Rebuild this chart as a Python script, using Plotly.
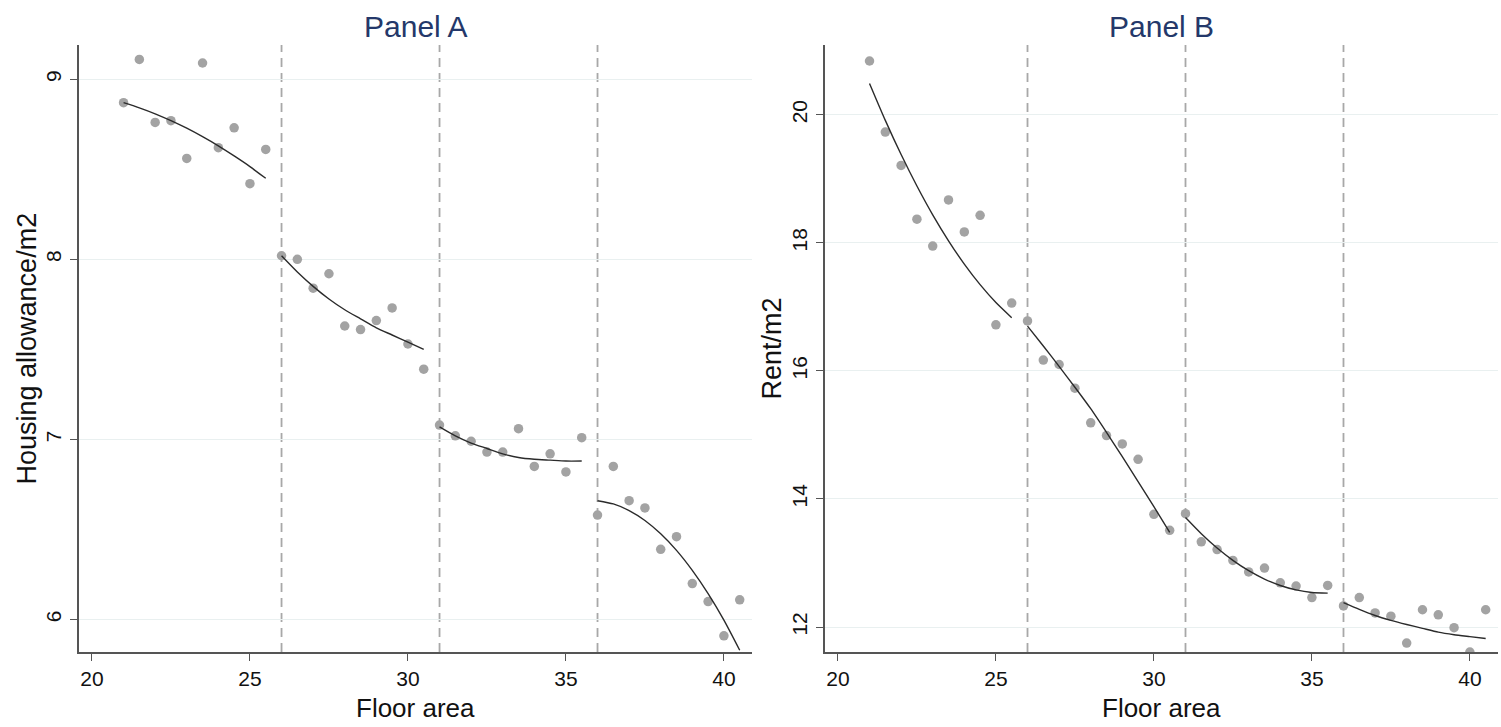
import plotly.graph_objects as go

# Floor-area bins (m2), shared by both panels
floor_area = [21, 21.5, 22, 22.5, 23, 23.5, 24, 24.5, 25, 25.5,
              26, 26.5, 27, 27.5, 28, 28.5, 29, 29.5, 30, 30.5,
              31, 31.5, 32, 32.5, 33, 33.5, 34, 34.5, 35, 35.5,
              36, 36.5, 37, 37.5, 38, 38.5, 39, 39.5, 40, 40.5]

# Panel A: mean housing allowance per m2 in each bin
allowance = [8.87, 9.11, 8.76, 8.77, 8.56, 9.09, 8.62, 8.73, 8.42, 8.61,
             8.02, 8.00, 7.84, 7.92, 7.63, 7.61, 7.66, 7.73, 7.53, 7.39,
             7.08, 7.02, 6.99, 6.93, 6.93, 7.06, 6.85, 6.92, 6.82, 7.01,
             6.58, 6.85, 6.66, 6.62, 6.39, 6.46, 6.20, 6.10, 5.91, 6.11]

# Panel B: mean rent per m2 in each bin
rent = [20.84, 19.73, 19.21, 18.37, 17.95, 18.67, 18.17, 18.43, 16.72, 17.06,
        16.78, 16.17, 16.10, 15.73, 15.19, 14.99, 14.86, 14.62, 13.76, 13.51,
        13.77, 13.33, 13.21, 13.04, 12.86, 12.92, 12.69, 12.64, 12.46, 12.65,
        12.33, 12.46, 12.22, 12.17, 11.75, 12.27, 12.19, 11.99, 11.61, 12.27]

# Thresholds separating the allowance brackets
cutoffs = [26, 31, 36]

# Fitted values within each bracket, one list per bracket (same bins as above)
fit_allowance = [[8.870, 8.841, 8.808, 8.770, 8.728, 8.681, 8.630, 8.574, 8.515, 8.450],
                 [8.020, 7.930, 7.850, 7.780, 7.720, 7.670, 7.620, 7.580, 7.540, 7.500],
                 [7.070, 7.020, 6.980, 6.950, 6.920, 6.900, 6.890, 6.885, 6.880, 6.880],
                 [6.660, 6.642, 6.605, 6.550, 6.476, 6.384, 6.273, 6.144, 5.997, 5.830]]
fit_rent = [[20.490, 19.913, 19.379, 18.888, 18.438, 18.032, 17.668, 17.347, 17.068, 16.831],
            [16.700, 16.390, 16.070, 15.745, 15.410, 15.040, 14.660, 14.270, 13.880, 13.480],
            [13.710, 13.457, 13.234, 13.042, 12.880, 12.749, 12.649, 12.580, 12.540, 12.530],
            [12.380, 12.275, 12.180, 12.105, 12.040, 11.980, 11.920, 11.880, 11.850, 11.820]]

panel_titles = ["Panel A", "Panel B"]
y_titles = ["Housing allowance/m2", "Rent/m2"]

DOT = "#a3a3a3"
FIT = "#2b2b2b"
AXIS = "#555555"
GRID = "#e9f0f0"
TITLE = "#24386a"
FONT = "Liberation Sans, Arial, sans-serif"

fig = go.Figure()

for p, (values, fits) in enumerate([(allowance, fit_allowance), (rent, fit_rent)]):
    xa = "x" if p == 0 else "x2"
    ya = "y" if p == 0 else "y2"
    fig.add_trace(go.Scatter(
        x=floor_area, y=values, mode="markers", xaxis=xa, yaxis=ya,
        marker=dict(color=DOT, size=9.5, line=dict(width=0)),
        showlegend=False, hoverinfo="x+y"))
    for k, fy in enumerate(fits):
        fx = floor_area[10 * k:10 * (k + 1)]
        fig.add_trace(go.Scatter(
            x=fx, y=fy, mode="lines", xaxis=xa, yaxis=ya,
            line=dict(color=FIT, width=1.4, shape="spline", smoothing=0.6),
            showlegend=False, hoverinfo="skip"))
    for c in cutoffs:
        fig.add_shape(type="line", xref=xa, yref=f"{ya} domain",
                      x0=c, x1=c, y0=0, y1=1,
                      line=dict(color="#a8a8a8", width=1.8, dash="9px,6px"),
                      layer="below")

common_x = dict(range=[19.59, 40.89], tickvals=[20, 25, 30, 35, 40],
                showline=True, linecolor=AXIS, linewidth=1.5,
                ticks="outside", ticklen=7, tickcolor=AXIS, tickwidth=1.3,
                showgrid=False, zeroline=False,
                tickfont=dict(family=FONT, size=21, color="#111"))
common_y = dict(showline=True, linecolor=AXIS, linewidth=1.5,
                ticks="outside", ticklen=7, tickcolor=AXIS, tickwidth=1.3,
                showgrid=True, gridcolor=GRID, gridwidth=1, zeroline=False,
                tickangle=-90, ticklabelstandoff=1,
                tickfont=dict(family=FONT, size=21, color="#111"))

fig.update_layout(
    width=1501, height=727,
    margin=dict(l=79, r=3, t=45, b=75),
    paper_bgcolor="white", plot_bgcolor="white",
    xaxis=dict(domain=[0, 0.4743], anchor="y", **common_x),
    xaxis2=dict(domain=[0.5257, 1], anchor="y2", **common_x),
    yaxis=dict(domain=[0, 1], anchor="x", range=[5.82, 9.19],
               tickvals=[6, 7, 8, 9], **common_y),
    yaxis2=dict(domain=[0, 1], anchor="x2", range=[11.61, 21.09],
                tickvals=[12, 14, 16, 18, 20], **common_y),
)

for i, t in enumerate(panel_titles):
    dom = fig.layout.xaxis.domain if i == 0 else fig.layout.xaxis2.domain
    mid = (dom[0] + dom[1]) / 2
    fig.add_annotation(text=t, xref="paper", yref="paper",
                       x=mid, y=1.0, yshift=19,
                       xanchor="center", yanchor="middle", showarrow=False,
                       font=dict(family=FONT, size=30, color=TITLE))
    # horizontal axis title below the tick labels
    fig.add_annotation(text="Floor area", xref="paper", yref="paper",
                       x=mid, y=0.0, yshift=-56,
                       xanchor="center", yanchor="middle", showarrow=False,
                       font=dict(family=FONT, size=26, color="#111"))
    # vertical axis title, set just left of the tick labels
    fig.add_annotation(text=y_titles[i], xref="paper", yref="paper",
                       x=dom[0], y=0.5, xshift=-53, textangle=-90,
                       xanchor="center", yanchor="middle", showarrow=False,
                       font=dict(family=FONT, size=27, color="#111"))

fig.write_html("out.html")
